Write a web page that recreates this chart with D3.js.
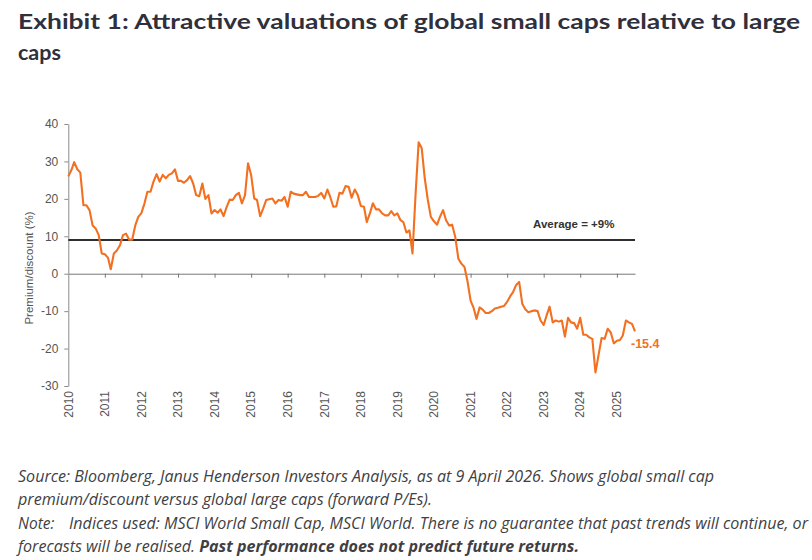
<!DOCTYPE html>
<html>
<head>
<meta charset="utf-8">
<script src="https://cdn.jsdelivr.net/npm/d3@7"></script>
<style>
  html, body { margin: 0; padding: 0; background: #fff; }
  svg { display: block; }
</style>
</head>
<body>
<svg id="chart" width="812" height="560"></svg>
<script>
// ---------------- DATA ----------------
const titleLines = ["Exhibit 1: Attractive valuations of global small caps relative to large", "caps"];
const startYear = 2010;           // first observation: January 2010, monthly
const premium = [
  26.0, 27.7, 29.8, 27.9, 27.0, 18.3, 18.3, 17.0, 12.9, 12.1, 10.3, 5.4,
  5.2, 4.3, 1.2, 5.4, 6.2, 7.6, 10.3, 10.7, 9.1, 9.1, 12.9, 15.2,
  16.2, 18.8, 21.9, 21.9, 24.6, 26.6, 24.6, 26.4, 25.5, 26.4, 26.8, 27.9,
  24.8, 24.8, 24.3, 25.0, 26.1, 24.1, 21.0, 20.7, 24.1, 20.0, 21.0, 16.1,
  17.0, 16.3, 17.2, 15.4, 17.8, 19.8, 19.7, 21.0, 21.6, 18.8, 21.0, 29.5,
  26.4, 20.1, 19.7, 15.4, 17.4, 19.7, 19.9, 20.1, 18.8, 19.7, 19.5, 20.5,
  17.9, 21.9, 21.4, 21.2, 21.0, 21.0, 21.9, 20.5, 20.5, 20.5, 20.8, 21.6,
  20.1, 22.5, 20.5, 17.9, 18.0, 21.6, 21.4, 23.4, 23.2, 20.3, 22.5, 21.0,
  18.1, 17.9, 13.8, 16.1, 18.8, 17.2, 17.2, 16.1, 15.6, 15.6, 16.7, 15.6,
  16.1, 14.3, 13.8, 11.0, 11.6, 5.4, 21.0, 35.1, 33.5, 25.5, 19.7, 15.2,
  14.0, 13.1, 15.2, 17.0, 14.3, 12.9, 13.1, 9.8, 4.0, 2.7, 1.8, -2.0,
  -7.2, -9.2, -12.1, -9.0, -9.6, -10.5, -10.5, -10.0, -9.3, -9.1, -8.8, -8.6,
  -7.5, -6.0, -4.9, -3.0, -2.2, -8.0, -9.5, -10.3, -10.0, -9.8, -10.0, -12.5,
  -13.7, -11.0, -8.8, -13.0, -12.5, -12.8, -12.5, -16.8, -11.8, -13.0, -13.2, -14.7,
  -11.8, -16.3, -16.3, -17.0, -17.4, -26.4, -21.9, -17.2, -17.4, -14.7, -15.7, -18.6,
  -17.9, -17.7, -16.5, -12.5, -13.0, -13.4, -15.4
];
const average = 9;
const averageLabel = "Average = +9%";
const yTicks = [-30, -20, -10, 0, 10, 20, 30, 40];
const yearLabels = ["2010","2011","2012","2013","2014","2015","2016","2017","2018","2019","2020","2021","2022","2023","2024","2025"];
const yAxisTitle = "Premium/discount (%)";
const footerSource = [
  "Source: Bloomberg, Janus Henderson Investors Analysis, as at 9 April 2026. Shows global small cap",
  "premium/discount versus global large caps (forward P/Es)."
];
const footerNoteLabel = "Note:";
const footerNoteText = "Indices used: MSCI World Small Cap, MSCI World. There is no guarantee that past trends will continue, or";
const footerLast = "forecasts will be realised. ";
const footerBold = "Past performance does not predict future returns.";

// ---------------- CHART ----------------
const ORANGE = "#f37021";
const AXIS = "#8a8a8a";
const TEXT = "#555";
const svg = d3.select("#chart");
const hyphen = d3.formatLocale({ decimal: ".", thousands: ",", grouping: [3], currency: ["", ""], minus: "-" });

const series = premium.map((v, i) => ({ date: new Date(startYear, i, 1), value: v }));

const x = d3.scaleTime()
  .domain([new Date(startYear, 0, 1), series[series.length - 1].date])
  .range([68.3, 635]);
const y = d3.scaleLinear().domain([-30, 40]).range([386, 124]);

// Title
const title = svg.append("text")
  .attr("x", 18).attr("y", 29)
  .style("font-family", "Lato, 'Open Sans', sans-serif")
  .style("font-weight", 700)
  .style("font-size", "21.5px")
  .style("fill", "#30303c");
titleLines.forEach((t, i) => {
  title.append("tspan").attr("x", 18).attr("y", 29 + i * 31).text(t);
});
{
  const first = title.select("tspan").node();
  const w = first.getComputedTextLength();
  const target = 782;
  if (Math.abs(w - target) > 4) {
    d3.select(first).attr("textLength", target).attr("lengthAdjust", "spacingAndGlyphs");
  }
}

// Y axis
const yAxis = svg.append("g")
  .attr("transform", `translate(${x.range()[0]},0)`)
  .call(d3.axisLeft(y).tickValues(yTicks).tickSize(4).tickPadding(6).tickSizeOuter(0)
    .tickFormat(hyphen.format("d")));
yAxis.select(".domain").attr("stroke", AXIS);
yAxis.selectAll(".tick line").attr("stroke", AXIS);
yAxis.selectAll(".tick text")
  .style("font-family", "'Liberation Sans', Arial, sans-serif")
  .style("font-size", "12px")
  .style("fill", TEXT);

// Y axis title
svg.append("text")
  .attr("transform", `translate(33,268) rotate(-90)`)
  .attr("text-anchor", "middle")
  .style("font-family", "'Liberation Sans', Arial, sans-serif")
  .style("font-size", "11.5px")
  .style("fill", TEXT)
  .text(yAxisTitle);

// Zero axis with yearly ticks
const yearTickDates = yearLabels.slice(1).map(s => new Date(+s, 0, 1));
const zeroAxis = svg.append("g")
  .attr("transform", `translate(0,${y(0)})`)
  .call(d3.axisBottom(x).tickValues(yearTickDates).tickSize(4).tickSizeOuter(0).tickFormat(""));
zeroAxis.select(".domain").attr("stroke", "#777");
zeroAxis.selectAll(".tick line").attr("stroke", "#777");

// Year labels at the bottom (rotated)
svg.append("g").selectAll("text")
  .data(yearLabels)
  .join("text")
  .attr("transform", d => `translate(${x(new Date(+d, 0, 1))},391) rotate(-90)`)
  .attr("text-anchor", "end")
  .attr("dy", "0.35em")
  .style("font-family", "'Liberation Sans', Arial, sans-serif")
  .style("font-size", "12px")
  .style("fill", TEXT)
  .text(d => d);

// Average line
svg.append("line")
  .attr("x1", x.range()[0]).attr("x2", x.range()[1])
  .attr("y1", y(average)).attr("y2", y(average))
  .attr("stroke", "#2e2e32").attr("stroke-width", 2);
svg.append("text")
  .attr("x", 533).attr("y", y(average) - 12)
  .style("font-family", "'Liberation Sans', Arial, sans-serif")
  .style("font-weight", 700)
  .style("font-size", "11.5px")
  .style("fill", "#333")
  .text(averageLabel);

// Series line
const line = d3.line().x(d => x(d.date)).y(d => y(d.value));
svg.append("path")
  .datum(series)
  .attr("d", line)
  .attr("fill", "none")
  .attr("stroke", ORANGE)
  .attr("stroke-width", 2.1)
  .attr("stroke-linejoin", "round");

// End label
const last = series[series.length - 1];
svg.append("text")
  .attr("x", x(last.date) - 4).attr("y", y(last.value) + 17)
  .style("font-family", "'Liberation Sans', Arial, sans-serif")
  .style("font-weight", 700)
  .style("font-size", "12.5px")
  .style("fill", ORANGE)
  .text(hyphen.format(".1f")(last.value));

// Footer
const footFont = "'Open Sans', 'DejaVu Sans', sans-serif";
function footText(xp, yp) {
  return svg.append("text").attr("x", xp).attr("y", yp)
    .style("font-family", footFont)
    .style("font-style", "italic")
    .style("font-size", "15.5px")
    .style("fill", "#3f3f44");
}
function fit(t, width) {
  const w = t.node().getComputedTextLength();
  if (Math.abs(w - width) > 3) t.attr("textLength", width).attr("lengthAdjust", "spacingAndGlyphs");
}
const f1 = footText(18, 482).text(footerSource[0]); fit(f1, 696);
const f2 = footText(18, 505).text(footerSource[1]); fit(f2, 414);
const f3a = footText(18, 529).text(footerNoteLabel); fit(f3a, 38);
const f3b = footText(69, 529).text(footerNoteText); fit(f3b, 739);
const f4 = footText(18, 552);
f4.append("tspan").text(footerLast);
f4.append("tspan").style("font-weight", 700).text(footerBold);
fit(f4, 561);
</script>
</body>
</html>
